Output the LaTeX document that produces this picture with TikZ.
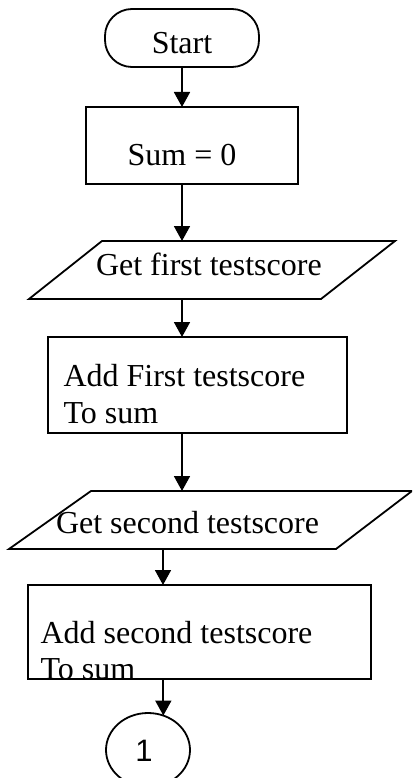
\documentclass[tikz,border=0pt]{standalone}
\usepackage{fontspec}
\setmainfont{Liberation Serif}
\newfontfamily\arialf{Liberation Sans}
\usetikzlibrary{arrows.meta,shapes.geometric}
\tikzset{
  lw/.style={line width=1.8pt},
  boxshape/.style={draw,lw,rectangle,inner sep=0pt,outer sep=0pt},
  termshape/.style={boxshape,rounded corners=27pt},
  ovalshape/.style={draw,lw,ellipse,inner sep=0pt,outer sep=0pt,minimum width=84pt,minimum height=74pt},
  txt/.style={inner sep=0pt,outer sep=0pt,font=\fontsize{32}{36}\selectfont},
  arr/.style={lw,-{Triangle[length=15pt,width=16pt]}},
  ioshape/.style={draw,lw,line join=miter}
}
\begin{document}
\begin{tikzpicture}[x=1pt,y=-1pt]
\useasboundingbox (0,0) rectangle (412,778);
\clip (0,0) rectangle (412,778);
\fill[white] (0,0) rectangle (412,778);
% shapes
\node[termshape,minimum width=154pt,minimum height=58pt] (start) at (182,38) {};
\node[boxshape,minimum width=212pt,minimum height=77pt] (sum) at (192,145.5) {};
\draw[ioshape] (102,241) -- (395,241) -- (321,299) -- (29,299) -- cycle;
\coordinate (p1n) at (182,241);
\coordinate (p1s) at (182,299);
\node[boxshape,minimum width=299pt,minimum height=96pt] (add1) at (197.5,385) {};
\draw[ioshape] (91,491) -- (412,491) -- (336,549) -- (9,549) -- cycle;
\coordinate (p2n) at (182,491);
\coordinate (p2s) at (163,549);
\node[boxshape,minimum width=343pt,minimum height=94pt] (add2) at (199.5,632) {};
\node[ovalshape] (one) at (148,750) {};
% texts
\node[txt,anchor=base] (tstart) at (182,54) {Start};
\node[txt,anchor=base] (tsum) at (182,165) {Sum = 0};
\node[txt,anchor=base west] (tget1) at (96,275) {Get first testscore};
\node[txt,anchor=base west] (tadd1a) at (63.5,386) {Add First testscore};
\node[txt,anchor=base west] (tadd1b) at (63.5,423) {To sum};
\node[txt,anchor=base west] (tget2) at (56,533) {Get second testscore};
\node[txt,anchor=base west] (tadd2a) at (40.5,643) {Add second testscore};
\node[txt,anchor=base west] (tadd2b) at (40.5,679) {To sum};
\node[txt,anchor=base,font=\arialf\fontsize{31}{36}\selectfont] (tone) at (144,761) {1};
% connectors
\draw[arr] (start.south) -- (start.south |- sum.north);
\draw[arr] (sum.south -| p1n) -- (p1n);
\draw[arr] (p1s) -- (p1s |- add1.north);
\draw[arr] (add1.south -| p2n) -- (p2n);
\draw[arr] (p2s) -- (p2s |- add2.north);
\draw[arr] (add2.south -| one.66.6) -- (one.66.6);
\end{tikzpicture}
\end{document}
